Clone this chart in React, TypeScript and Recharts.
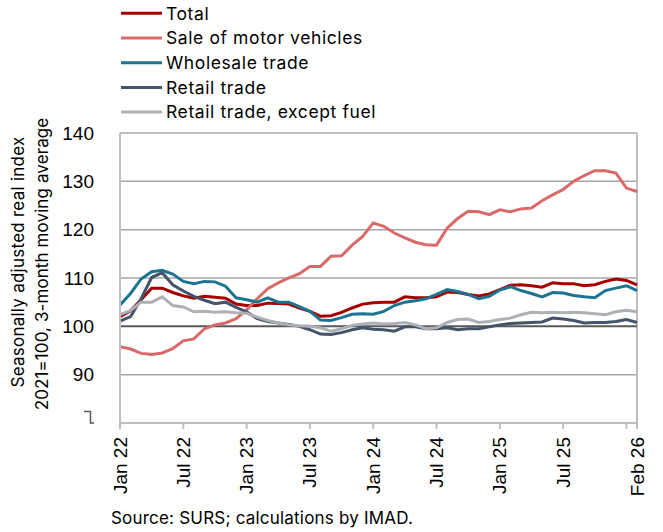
import { LineChart, Line, XAxis, YAxis, CartesianGrid, ReferenceLine } from 'recharts';

const months = [
  'Jan 22', 'Feb 22', 'Mar 22', 'Apr 22', 'May 22', 'Jun 22', 'Jul 22', 'Aug 22', 'Sep 22', 'Oct 22', 'Nov 22', 'Dec 22',
  'Jan 23', 'Feb 23', 'Mar 23', 'Apr 23', 'May 23', 'Jun 23', 'Jul 23', 'Aug 23', 'Sep 23', 'Oct 23', 'Nov 23', 'Dec 23',
  'Jan 24', 'Feb 24', 'Mar 24', 'Apr 24', 'May 24', 'Jun 24', 'Jul 24', 'Aug 24', 'Sep 24', 'Oct 24', 'Nov 24', 'Dec 24',
  'Jan 25', 'Feb 25', 'Mar 25', 'Apr 25', 'May 25', 'Jun 25', 'Jul 25', 'Aug 25', 'Sep 25', 'Oct 25', 'Nov 25', 'Dec 25',
  'Jan 26', 'Feb 26',
];

const total = [
  102.0, 103.2, 105.5, 107.9, 107.9, 107.0, 106.3, 105.8, 106.2, 106.0, 105.8, 104.6,
  104.3, 104.3, 104.8, 104.7, 104.6, 103.8, 103.1, 102.1, 102.2, 102.9, 103.8, 104.6,
  104.9, 105.0, 105.0, 106.1, 105.9, 105.9, 106.1, 107.1, 107.0, 106.6, 106.3, 106.7,
  107.6, 108.5, 108.6, 108.4, 108.1, 109.0, 108.8, 108.8, 108.4, 108.6, 109.3, 109.8,
  109.5, 108.6,
];

const motorVehicles = [
  95.8, 95.3, 94.4, 94.2, 94.5, 95.4, 97.0, 97.4, 99.5, 100.3, 100.7, 101.6,
  103.4, 105.7, 107.8, 109.0, 110.0, 110.9, 112.4, 112.4, 114.5, 114.6, 116.8, 118.6,
  121.4, 120.7, 119.3, 118.3, 117.4, 116.9, 116.8, 120.3, 122.3, 123.8, 123.7, 123.1,
  124.1, 123.7, 124.3, 124.5, 126.0, 127.2, 128.3, 130.0, 131.2, 132.2, 132.2, 131.7,
  128.6, 127.9,
];

const wholesale = [
  104.4, 106.8, 109.8, 111.3, 111.6, 110.8, 109.3, 108.8, 109.3, 109.2, 108.3, 105.9,
  105.5, 105.0, 105.9, 105.0, 105.0, 104.1, 103.1, 101.3, 101.2, 101.8, 102.5, 102.6,
  102.5, 103.1, 104.3, 105.0, 105.3, 105.7, 106.6, 107.6, 107.2, 106.6, 105.7, 106.2,
  107.5, 108.2, 107.4, 106.8, 106.1, 107.0, 106.9, 106.4, 106.1, 105.9, 107.4, 107.9,
  108.4, 107.4,
];

const retail = [
  101.1, 102.0, 105.7, 110.1, 111.1, 108.6, 107.3, 106.2, 105.4, 104.7, 105.0, 103.9,
  103.0, 101.6, 101.0, 100.7, 100.4, 100.0, 99.3, 98.4, 98.3, 98.7, 99.3, 99.7,
  99.4, 99.3, 99.0, 99.9, 99.9, 99.5, 99.5, 99.7, 99.3, 99.5, 99.5, 99.9,
  100.3, 100.6, 100.7, 100.8, 100.9, 101.7, 101.5, 101.2, 100.7, 100.8, 100.8, 101.0,
  101.4, 100.8,
];

const retailExFuel = [
  102.4, 103.3, 105.0, 105.0, 106.1, 104.3, 104.0, 103.0, 103.1, 102.9, 103.0, 102.8,
  102.7, 101.9, 101.2, 100.7, 100.3, 100.1, 100.0, 99.7, 99.0, 99.5, 100.2, 100.5,
  100.7, 100.5, 100.6, 100.8, 100.3, 99.5, 99.7, 100.8, 101.4, 101.5, 100.8, 101.0,
  101.4, 101.7, 102.4, 102.9, 102.8, 102.9, 102.8, 102.9, 102.8, 102.6, 102.4, 103.0,
  103.3, 103.0,
];

const xTicks = ['Jan 22', 'Jul 22', 'Jan 23', 'Jul 23', 'Jan 24', 'Jul 24', 'Jan 25', 'Jul 25', 'Jan 26', 'Feb 26'];
const yTicks = [80, 90, 100, 110, 120, 130, 140];

const series = [
  { key: 'total', name: 'Total', color: '#a50000', values: total },
  { key: 'motor', name: 'Sale of motor vehicles', color: '#d96a6a', values: motorVehicles },
  { key: 'wholesale', name: 'Wholesale trade', color: '#1c7490', values: wholesale },
  { key: 'retail', name: 'Retail trade', color: '#44546a', values: retail },
  { key: 'retailEx', name: 'Retail trade, except fuel', color: '#adb1b6', values: retailExFuel },
];

const data = months.map((m, i) => {
  const row: any = { month: m };
  series.forEach((s) => { row[s.key] = s.values[i]; });
  return row;
});

const textFont = 'Inter, "Open Sans", sans-serif';
const tickFont = '"Liberation Sans", Arial, sans-serif';

function XTick({ x, y, payload }: any) {
  // Jan 26 keeps its tick mark but has no label
  if (payload.value === 'Jan 26') return <g />;
  return (
    <text x={x} y={y} transform={`rotate(-90 ${x} ${y})`} textAnchor="end" dominantBaseline="central"
      fontFamily={tickFont} fontSize={19} fill="#000">
      {payload.value}
    </text>
  );
}

function YTick({ x, y, payload }: any) {
  if (payload.value === 80) {
    // axis break mark
    return <path d={`M${x - 10},${y - 11.5} H${x - 3.5} V${y} H${x}`} stroke="#595959" strokeWidth={1.5} fill="none" />;
  }
  return (
    <text x={x} y={y} textAnchor="end" dominantBaseline="central" fontFamily={tickFont} fontSize={19} fill="#000">
      {payload.value}
    </text>
  );
}

export default function App() {
  return (
    <div style={{ position: 'absolute', left: 0, top: 0, width: 663, height: 532, background: '#fff' }}>
      <LineChart width={663} height={532} data={data} margin={{ top: 133, right: 26, bottom: 39, left: 0 }}>
        <CartesianGrid vertical={false} stroke="#a6a6a6" strokeWidth={1.5} horizontalValues={[90, 110, 120, 130]} />
        <ReferenceLine y={140} stroke="#bfbfbf" strokeWidth={2} />
        <ReferenceLine x="Feb 26" stroke="#bfbfbf" strokeWidth={2} />
        <ReferenceLine y={100} stroke="#595959" strokeWidth={2} />
        <XAxis dataKey="month" ticks={xTicks} interval={0} height={70} tick={<XTick />}
          axisLine={{ stroke: '#bfbfbf', strokeWidth: 2 }} tickLine={{ stroke: '#bfbfbf', strokeWidth: 2 }}
          tickSize={6} tickMargin={8} />
        <YAxis domain={[80, 140]} ticks={yTicks} width={120} tick={<YTick />}
          axisLine={{ stroke: '#bfbfbf', strokeWidth: 2 }} tickLine={false} tickMargin={20} />
        {series.map((s) => (
          <Line key={s.key} dataKey={s.key} name={s.name} stroke={s.color} strokeWidth={3}
            dot={false} activeDot={false} isAnimationActive={false} />
        ))}
      </LineChart>
      <svg width={663} height={532} style={{ position: 'absolute', left: 0, top: 0, pointerEvents: 'none' }}>
        <g fontFamily={textFont} fill="#000">
          <text x={18} y={262} transform="rotate(-90 18 262)" textAnchor="middle" dominantBaseline="central"
            fontSize={17} letterSpacing={0.25}>
            Seasonally adjusted real index
          </text>
          <text x={42} y={264} transform="rotate(-90 42 264)" textAnchor="middle" dominantBaseline="central"
            fontSize={17} letterSpacing={0.1}>
            2021=100, 3-month moving average
          </text>
          {series.map((s, i) => (
            <g key={s.key}>
              <line x1={121} x2={162} y1={13.3 + i * 24.7} y2={13.3 + i * 24.7} stroke={s.color} strokeWidth={3} />
              <text x={166} y={19.5 + i * 24.7} fontSize={17.5} letterSpacing={0.6}>{s.name}</text>
            </g>
          ))}
          <text x={111} y={524} fontSize={17} letterSpacing={0.2}>Source: SURS; calculations by IMAD.</text>
        </g>
      </svg>
    </div>
  );
}
